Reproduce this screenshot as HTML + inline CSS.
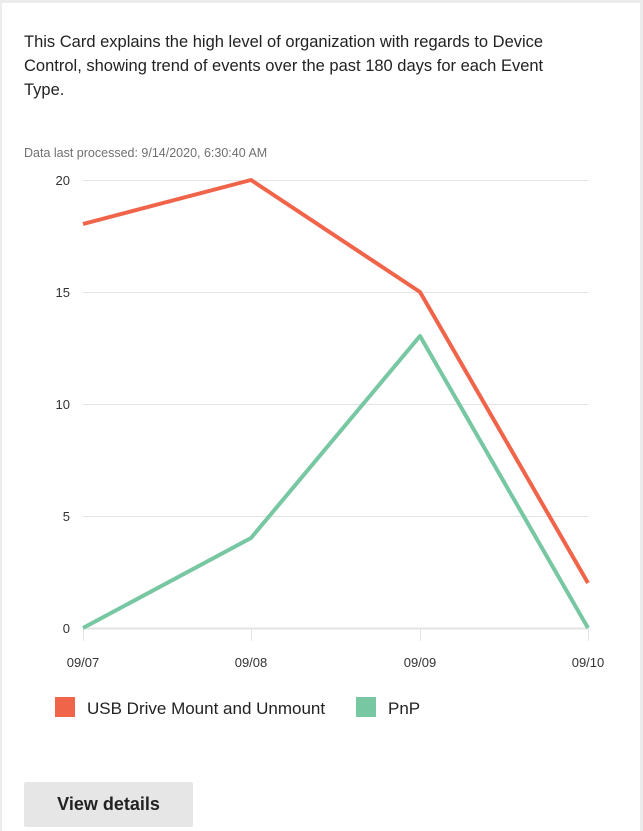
<!DOCTYPE html>
<html><head><style>
body{margin:0;width:643px;height:831px;background:#ececec;position:relative;overflow:hidden;font-family:"Segoe UI","Liberation Sans",sans-serif;}
.card{position:absolute;left:2px;top:3px;width:638px;height:828px;background:#fff;}
.p{position:absolute;left:24px;top:30px;width:560px;font-size:16.5px;line-height:24px;color:#222;}
.d{position:absolute;left:24px;top:146px;font-size:12.5px;color:#707070;}
.btn{position:absolute;left:24px;top:782px;width:169px;height:45px;background:#e6e6e6;border-radius:2px;font-size:18px;font-weight:600;color:#222;text-align:center;line-height:45px;}
</style></head><body>
<div class="card"></div>
<div class="p">This Card explains the high level of organization with regards to Device Control, showing trend of events over the past 180 days for each Event Type.</div>
<div class="d">Data last processed: 9/14/2020, 6:30:40 AM</div>
<svg width="643" height="831" style="position:absolute;left:0;top:0" font-family="Segoe UI, Liberation Sans, sans-serif">
<g stroke="#e3e3e3" stroke-width="1">
<line x1="83" y1="180.5" x2="588" y2="180.5"/><line x1="83" y1="292.5" x2="588" y2="292.5"/><line x1="83" y1="404.5" x2="588" y2="404.5"/><line x1="83" y1="516.5" x2="588" y2="516.5"/>
<line x1="83" y1="628.5" x2="588" y2="628.5" stroke-width="2"/>
<line x1="83.5" y1="628" x2="83.5" y2="641"/><line x1="251.5" y1="628" x2="251.5" y2="641"/><line x1="420.5" y1="628" x2="420.5" y2="641"/><line x1="588.5" y1="628" x2="588.5" y2="641"/>
</g>
<g font-size="13" fill="#333" text-anchor="end">
<text x="70" y="185">20</text><text x="70" y="297">15</text><text x="70" y="409">10</text><text x="70" y="521">5</text><text x="70" y="633">0</text>
</g>
<g font-size="13" fill="#333" text-anchor="middle">
<text x="83" y="667">09/07</text><text x="251" y="667">09/08</text><text x="420" y="667">09/09</text><text x="588" y="667">09/10</text>
</g>
<polyline points="83,224 251,180 420,292 588,583" fill="none" stroke="#f0644a" stroke-width="4" stroke-linejoin="round"/>
<polyline points="83,628 251,538 420,336 588,628" fill="none" stroke="#77c7a3" stroke-width="4" stroke-linejoin="round"/>
<rect x="55" y="697" width="20" height="20" fill="#f0644a"/>
<rect x="356" y="697" width="20" height="20" fill="#77c7a3"/>
<g font-size="17" fill="#222"><text x="87" y="714">USB Drive Mount and Unmount</text><text x="388" y="714">PnP</text></g>
</svg>
<div class="btn">View details</div>
</body></html>
